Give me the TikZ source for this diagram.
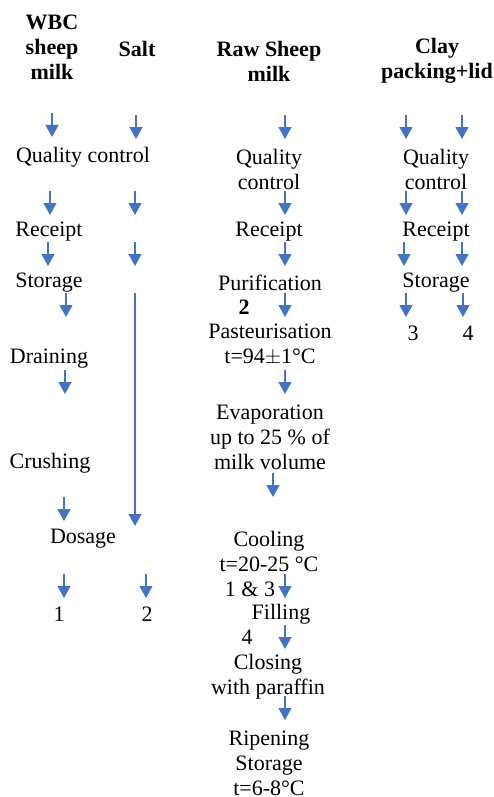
\documentclass[tikz,border=0pt]{standalone}
\usepackage{fontspec}
\setmainfont{Liberation Serif}
\usetikzlibrary{arrows.meta}

\begin{document}
\begin{tikzpicture}[x=1pt, y=-1pt, txt/.style={inner sep=0pt, align=center, yshift=-2pt, font=\fontsize{22}{25}\selectfont}, head/.style={txt, font=\fontsize{22}{25}\selectfont\bfseries}, flow/.style={draw={rgb,255:red,68;green,114;blue,196}, line width=1.2pt, -{Triangle[length=12pt, width=13pt]}}]
\useasboundingbox (0,0) rectangle (493,797);
% headers
\node[head] (wbc) at (52,45) {WBC\\sheep\\milk};
\node[head] (salt) at (137,47) {Salt};
\node[head] (raw) at (269,59) {Raw Sheep\\milk};
\node[head] (clay) at (437,59) {Clay\\packing+lid};
% WBC sheep milk and salt
\node[txt] (qc1) at (83,155) {Quality control};
\node[txt] (rec1) at (49,230) {Receipt};
\node[txt] (sto1) at (49,281) {Storage};
\node[txt] (dra1) at (49,357) {Draining};
\node[txt] (cru1) at (50,461) {Crushing};
\node[txt] (dos1) at (83,537) {Dosage};
\node[txt] (out1) at (59,612) {1};
\node[txt] (out2) at (147,612) {2};
% raw sheep milk
\node[txt] (qc3) at (269,167) {Quality\\control};
\node[txt] (rec3) at (269,230) {Receipt};
\node[txt] (pur3) at (270,281) {Purification};
\node[txt, font=\fontsize{22}{25}\selectfont\bfseries] (in2) at (244,305) {2};
\node[txt] (pas3) at (270,343) {Pasteurisation\\t=94$\pm$1°C};
\node[txt] (eva3) at (270,435) {Evaporation\\up to 25 \% of\\milk volume};
\node[txt] (coo3) at (269,549) {Cooling\\t=20-25 °C};
\node[txt] (in13) at (250,587) {1 \& 3};
\node[txt] (fil3) at (281,612) {Filling};
\node[txt] (in4) at (247,635) {4};
\node[txt] (clo3) at (268,675) {Closing\\with paraffin};
\node[txt] (rip3) at (269,761) {Ripening\\Storage\\t=6-8°C};
% clay packing + lid
\node[txt] (qc4) at (436,167) {Quality\\control};
\node[txt] (rec4) at (436,230) {Receipt};
\node[txt] (sto4) at (436,281) {Storage};
\node[txt] (out3) at (413,331) {3};
\node[txt] (out4) at (468,331) {4};
% arrows
\foreach \i/\x/\y in {1/52/113, 2/136/115, 3/285/115, 4/406/115, 5/462/115, 6/50/191, 7/135/191, 8/285/191, 9/406/191, 10/462/191, 11/48/242, 12/135/242, 13/285/242, 14/404/242, 15/462/242, 16/66/293, 17/285/293, 18/406/293, 19/463/293, 20/65/370, 21/285/370, 22/273/473, 23/64/497, 24/64/574, 25/146/574, 26/285/574, 27/285/625, 28/285/696} {
  \coordinate (s\i) at (\x,\y);
  \coordinate (e\i) at (\x,\y+24);
  \draw[flow] (s\i) -- (e\i);
}
\coordinate (salttop) at (135,293);
\coordinate (saltend) at (135,526);
\draw[flow] (salttop) -- (saltend);
\end{tikzpicture}
\end{document}
